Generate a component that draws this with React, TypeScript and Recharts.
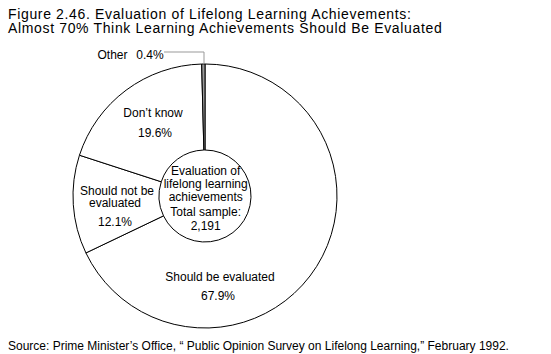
import React from 'react';
import { PieChart, Pie, Cell } from 'recharts';

const categories = ['Should be evaluated', 'Should not be evaluated', "Don't know", 'Other'];
const values = [67.9, 12.1, 19.6, 0.4];
const valueLabels = ['67.9%', '12.1%', '19.6%', '0.4%'];
const sliceFills = ['#fff', '#fff', '#fff', '#999'];
const titleLines = [
  'Figure 2.46. Evaluation of Lifelong Learning Achievements:',
  'Almost 70% Think Learning Achievements Should Be Evaluated',
];
const centerLines = ['Evaluation of', 'lifelong learning', 'achievements', 'Total sample:', '2,191'];
const sourceText = 'Source: Prime Minister\u2019s Office, \u201C Public Opinion Survey on Lifelong Learning,\u201D  February 1992.';

const data = categories.map((name, i) => ({ name, value: values[i], pct: valueLabels[i] }));

const FONT = '"Liberation Sans", Arial, Helvetica, sans-serif';

const renderLabel = (props: any) => {
  const { cx, cy, index } = props;
  const t = (dx: number, dy: number, s: string, key: string) => (
    <text key={key} x={cx + dx} y={cy + dy} textAnchor="middle" fontSize={12} fontFamily={FONT} fill="#000">
      {s}
    </text>
  );
  if (index === 0) {
    const cdy = [-21, -8, 4.7, 20, 34];
    return (
      <g>
        {t(15, 85, 'Should be evaluated', 'a')}
        {t(13, 104, valueLabels[0], 'b')}
        {centerLines.map((l, i) => t(0.7, cdy[i], l, 'c' + i))}
      </g>
    );
  }
  if (index === 1) {
    return (
      <g>
        {t(-88, -1, 'Should not be', 'a')}
        {t(-90, 11, 'evaluated', 'b')}
        {t(-90, 30, valueLabels[1], 'c')}
      </g>
    );
  }
  if (index === 2) {
    return (
      <g>
        {t(-52, -79, 'Don\u2019t know', 'a')}
        {t(-50, -59.5, valueLabels[2], 'b')}
      </g>
    );
  }
  return (
    <g>
      {t(-92.5, -137.5, 'Other', 'a')}
      {t(-55, -137.5, valueLabels[3], 'b')}
      <polyline
        points={`${cx - 41},${cy - 144} ${cx - 1},${cy - 144} ${cx - 1},${cy - 133}`}
        fill="none"
        stroke="#999"
        strokeWidth={1}
      />
    </g>
  );
};

export default function App() {
  return (
    <div style={{ position: 'absolute', left: 0, top: 0, width: 551, height: 354, background: '#fff' }}>
      <div
        style={{
          position: 'absolute',
          left: 8,
          top: 7,
          fontFamily: FONT,
          fontSize: 14,
          lineHeight: '14px',
          letterSpacing: '0.65px',
          color: '#000',
          whiteSpace: 'nowrap',
        }}
      >
        {titleLines.map((l) => (
          <div key={l}>{l}</div>
        ))}
      </div>
      <div style={{ position: 'absolute', left: 0, top: 0 }}>
        <PieChart width={551} height={354} margin={{ top: 0, right: 0, bottom: 0, left: 0 }}>
          <Pie
            data={data}
            dataKey="value"
            nameKey="name"
            cx={205}
            cy={196}
            innerRadius={46}
            outerRadius={132}
            startAngle={90}
            endAngle={-270}
            stroke="#000"
            strokeWidth={1}
            label={renderLabel}
            labelLine={false}
            isAnimationActive={false}
          >
            {data.map((d, i) => (
              <Cell key={d.name} fill={sliceFills[i]} stroke="#000" />
            ))}
          </Pie>
        </PieChart>
      </div>
      <div
        style={{
          position: 'absolute',
          left: 8,
          top: 339,
          fontFamily: FONT,
          fontSize: 12,
          lineHeight: '14px',
          color: '#000',
          whiteSpace: 'nowrap',
        }}
      >
        {sourceText}
      </div>
    </div>
  );
}
